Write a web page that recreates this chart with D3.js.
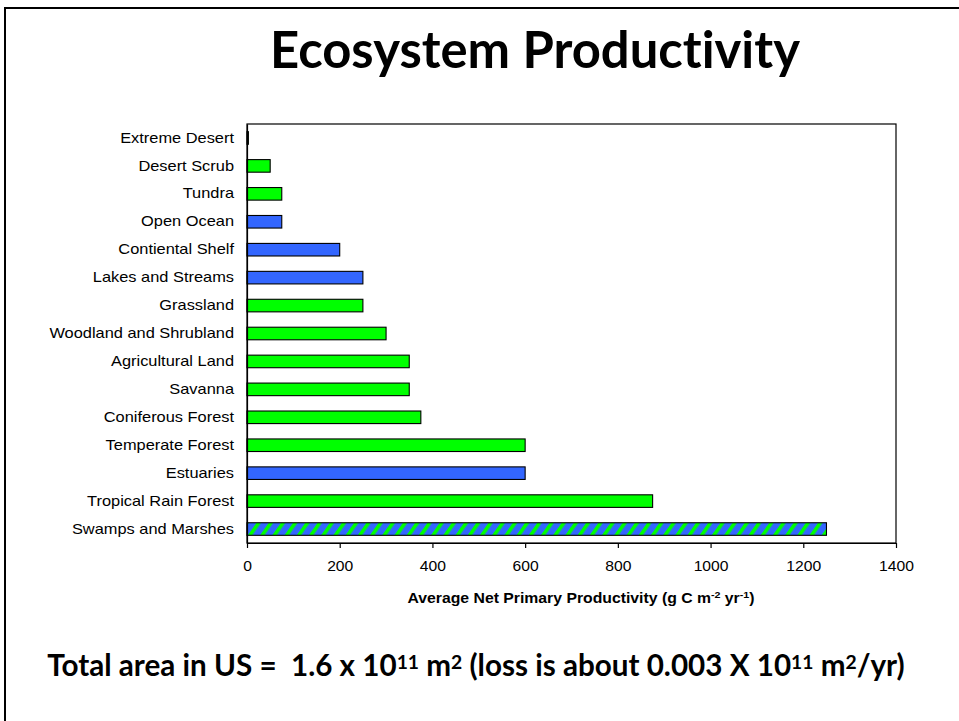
<!DOCTYPE html>
<html>
<head>
<meta charset="utf-8">
<script src="https://cdn.jsdelivr.net/npm/d3@7"></script>
<style>
  html, body { margin: 0; padding: 0; background: #fff; }
  svg { display: block; }
  .slide-text { font-family: Lato, "Open Sans", sans-serif; font-weight: 700; white-space: pre; font-variant-ligatures: none; }
  .axis text { font-family: "Liberation Sans", Arial, sans-serif; font-size: 14.5px; fill: #000; }
  .axis path, .axis line { stroke: #000; stroke-width: 1.2; }
</style>
</head>
<body>
<svg id="chart" width="959" height="721"></svg>
<script>
// Ecosystem types, listed top to bottom
const categories = [
  "Extreme Desert", "Desert Scrub", "Tundra", "Open Ocean", "Contiental Shelf",
  "Lakes and Streams", "Grassland", "Woodland and Shrubland", "Agricultural Land",
  "Savanna", "Coniferous Forest", "Temperate Forest", "Estuaries",
  "Tropical Rain Forest", "Swamps and Marshes"
];
// Average net primary productivity (g C m^-2 yr^-1)
const productivity = [3, 50, 75, 75, 200, 250, 250, 300, 350, 350, 375, 600, 600, 875, 1250];
// Habitat: terrestrial, aquatic, or both (wetlands)
const habitat = [
  "land", "land", "land", "water", "water", "water", "land", "land", "land",
  "land", "land", "land", "water", "land", "mixed"
];
const xTicks = [0, 200, 400, 600, 800, 1000, 1200, 1400];

const svg = d3.select("#chart");
const W = 959, H = 721;
const plot = { left: 247, right: 896, top: 124, bottom: 543 };

// slide border
svg.append("path")
  .attr("d", `M5,${H} L5,8 L${W},8`)
  .attr("fill", "none").attr("stroke", "#000").attr("stroke-width", 2);

// striped fill for wetlands
const defs = svg.append("defs");
const pat = defs.append("pattern")
  .attr("id", "wetland")
  .attr("patternUnits", "userSpaceOnUse")
  .attr("width", 10).attr("height", 10)
  .attr("patternTransform", "rotate(35)");
pat.append("rect").attr("width", 10).attr("height", 10).attr("fill", "#3366FF");
pat.append("rect").attr("width", 3.6).attr("height", 10).attr("fill", "#00FF00");

const fillFor = { land: "#00FF00", water: "#3366FF", mixed: "url(#wetland)" };

const x = d3.scaleLinear().domain([0, 1400]).range([plot.left, plot.right]);
const y = d3.scaleBand().domain(categories)
  .range([plot.top, plot.bottom])
  .paddingInner(0.55).paddingOuter(0.275);

// plot frame
svg.append("rect")
  .attr("x", plot.left).attr("y", plot.top)
  .attr("width", plot.right - plot.left).attr("height", plot.bottom - plot.top)
  .attr("fill", "none").attr("stroke", "#000").attr("stroke-width", 1.2);

// bars
svg.append("g").selectAll("rect")
  .data(categories)
  .join("rect")
  .attr("x", x(0))
  .attr("y", d => y(d))
  .attr("width", (d, i) => x(productivity[i]) - x(0))
  .attr("height", y.bandwidth())
  .attr("fill", (d, i) => fillFor[habitat[i]])
  .attr("stroke", "#000").attr("stroke-width", 1.1);

// widen chart text slightly (the chart's typeface runs wide)
function stretch(sel, k) {
  sel.each(function () {
    const w = this.getComputedTextLength();
    d3.select(this).attr("textLength", w * k).attr("lengthAdjust", "spacingAndGlyphs");
  });
}

// x axis
const gx = svg.append("g").attr("class", "axis")
  .attr("transform", `translate(0,${plot.bottom})`)
  .call(d3.axisBottom(x).tickValues(xTicks).tickSize(5).tickSizeOuter(0).tickPadding(13).tickFormat(d3.format("d")));
stretch(gx.selectAll("text"), 1.08);

// y axis
const gy = svg.append("g").attr("class", "axis")
  .attr("transform", `translate(${plot.left},0)`)
  .call(d3.axisLeft(y).tickSize(0).tickSizeOuter(0).tickPadding(13));
stretch(gy.selectAll("text"), 1.13);

// x axis title
const xt = svg.append("text")
  .attr("x", 581).attr("y", 603)
  .attr("text-anchor", "middle")
  .style("font-family", "'Liberation Sans', Arial, sans-serif")
  .style("font-weight", "700").style("font-size", "14px");
xt.append("tspan").text("Average Net Primary Productivity (g C m");
xt.append("tspan").attr("dy", -5).style("font-size", "9.5px").text("-2");
xt.append("tspan").attr("dy", 5).text(" yr");
xt.append("tspan").attr("dy", -5).style("font-size", "9.5px").text("-1");
xt.append("tspan").attr("dy", 5).text(")");
{
  const w = xt.node().getComputedTextLength();
  xt.attr("textLength", 347).attr("lengthAdjust", "spacingAndGlyphs");
}

// scale a text element's font so it spans the given width
function fitWidth(sel, target) {
  const base = 100;
  sel.style("font-size", base + "px");
  const w = sel.node().getComputedTextLength();
  sel.style("font-size", (base * target / w) + "px");
}

// title
const title = svg.append("text").attr("class", "slide-text")
  .attr("x", 535).attr("y", 68).attr("text-anchor", "middle")
  .text("Ecosystem Productivity");
fitWidth(title, 530);

// footnote with superscripts
const foot = svg.append("text").attr("class", "slide-text")
  .attr("x", 476).attr("y", 676).attr("text-anchor", "middle");
const parts = [
  ["Total area in US =  1.6 x 10", false], ["11", true], [" m", false], ["2", true],
  [" (loss is about 0.003 X 10", false], ["11", true], [" m", false], ["2", true], ["/yr)", false]
];
let raised = false;
parts.forEach(([t, sup]) => {
  const ts = foot.append("tspan").text(t);
  if (sup && !raised) { ts.attr("dy", "-0.38em").style("font-size", "65%"); raised = true; }
  else if (sup) { ts.style("font-size", "65%"); }
  else if (!sup && raised) { ts.attr("dy", "0.247em"); raised = false; }
});
fitWidth(foot, 858);
</script>
</body>
</html>
